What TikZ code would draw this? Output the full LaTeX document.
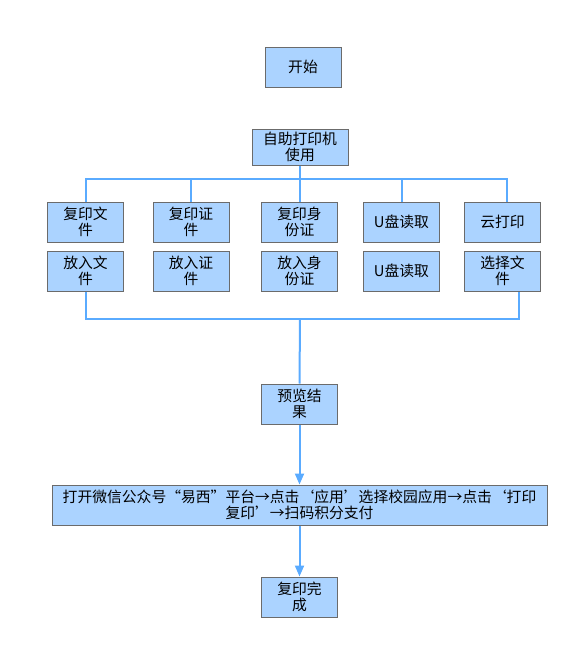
\documentclass[tikz,border=0pt]{standalone}
\usepackage{fontspec}
\newfontfamily\cjk{Noto Sans CJK SC}
\usetikzlibrary{arrows.meta}

\definecolor{boxfill}{HTML}{ABD3FF}
\definecolor{boxline}{HTML}{6B6B6B}
\definecolor{linkblue}{HTML}{5AABFF}

\tikzset{
   stepbox/.style = {draw = boxline, fill = boxfill, line width = 1pt,
      minimum width = 76pt, minimum height = 40pt, inner sep = 1pt,
      align = center, font = \cjk\fontsize{14.8}{16.5}\selectfont},
   widebox/.style = {stepbox, minimum width = 495pt},
   link/.style = {draw = linkblue, line width = 2pt},
   arrowlink/.style = {link, -{Triangle[width = 9pt, length = 11pt]}}
}

\begin{document}
\begin{tikzpicture}[x = 1pt, y = -1pt]
   \useasboundingbox (0,0) rectangle (586,648);
   \node[stepbox] (start) at (303,67) {开始};
   \node[stepbox, minimum width = 96pt, minimum height = 36pt] (use) at (300,147) {自助打印机\\使用};
   % first row
   \node[stepbox] (c1) at (85.5,222) {复印文\\件};
   \node[stepbox] (c2) at (191,222) {复印证\\件};
   \node[stepbox] (c3) at (299.5,222) {复印身\\份证};
   \node[stepbox] (c4) at (401.5,222) {U盘读取};
   \node[stepbox] (c5) at (502.5,222) {云打印};
   % second row
   \node[stepbox] (p1) at (85.5,271) {放入文\\件};
   \node[stepbox] (p2) at (191,271) {放入证\\件};
   \node[stepbox] (p3) at (299.5,271) {放入身\\份证};
   \node[stepbox] (p4) at (401.5,271) {U盘读取};
   \node[stepbox] (p5) at (502.5,271) {选择文\\件};
   \node[stepbox] (pre) at (299.5,404) {预览结\\果};
   \node[widebox] (pay) at (299.5,505) {打开微信公众号“易西”平台→点击‘应用’选择校园应用→点击‘打印\\复印’→扫码积分支付};
   \node[stepbox] (done) at (299.5,597) {复印完\\成};

   \coordinate (bustop) at (300,179);
   \coordinate (busbot) at (300,319);
   \draw[link] (use.south) -- (bustop);
   \draw[link] (c1.north) |- (bustop) -| ([xshift = 4pt]c5.north);
   \foreach \n in {c2,c3,c4}
      \draw[link] (\n.north) |- (bustop);
   \draw[link] (p1.south) |- (busbot) -| ([xshift = 16pt]p5.south);
   \draw[link] (busbot) -- (pre.north);
   \draw[arrowlink] (pre.south) -- (pay.north);
   \draw[arrowlink] (pay.south) -- (done.north);
\end{tikzpicture}
\end{document}
